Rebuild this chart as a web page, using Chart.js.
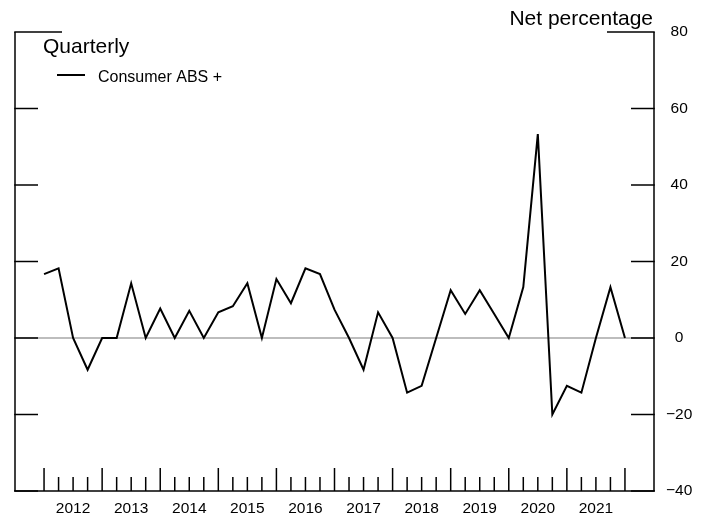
<!DOCTYPE html>
<html><head><meta charset="utf-8">
<script src="https://cdn.jsdelivr.net/npm/chart.js@4.4.1/dist/chart.umd.min.js"></script>
<style>html,body{margin:0;padding:0;background:#fff}#wrap{width:711px;height:520px}</style>
</head><body><div id="wrap"><canvas id="c" width="711" height="520" style="width:711px;height:520px"></canvas></div>
<script>
const quarters = ['2012Q1','2012Q2','2012Q3','2012Q4','2013Q1','2013Q2','2013Q3','2013Q4','2014Q1','2014Q2','2014Q3','2014Q4','2015Q1','2015Q2','2015Q3','2015Q4','2016Q1','2016Q2','2016Q3','2016Q4','2017Q1','2017Q2','2017Q3','2017Q4','2018Q1','2018Q2','2018Q3','2018Q4','2019Q1','2019Q2','2019Q3','2019Q4','2020Q1','2020Q2','2020Q3','2020Q4','2021Q1','2021Q2','2021Q3','2021Q4','2022Q1'];
const consumerABS = [16.7, 18.2, 0, -8.3, 0, 0, 14.3, 0, 7.7, 0, 7.1, 0, 6.7, 8.3, 14.3, 0, 15.4, 9.1, 18.2, 16.7, 7.4, 0, -8.3, 6.7, 0, -14.3, -12.5, 0, 12.5, 6.3, 12.5, 6.3, 0, 13.3, 53.3, -20, -12.5, -14.3, 0, 13.3, 0];
const yearLabels = ['2012','2013','2014','2015','2016','2017','2018','2019','2020','2021'];
const yTicks = [80, 60, 40, 20, 0, -20, -40];
const seriesName = 'Consumer ABS +';
const FONT = '"Liberation Sans", Arial, Helvetica, sans-serif';

const axesPlugin = {
  id: 'axesPlugin',
  beforeDatasetsDraw(chart) {
    const ctx = chart.ctx, ca = chart.chartArea, ys = chart.scales.y;
    const y0 = ys.getPixelForValue(0);
    ctx.save();
    ctx.strokeStyle = '#bdbdbd';
    ctx.lineWidth = 2;
    ctx.beginPath(); ctx.moveTo(ca.left, y0); ctx.lineTo(ca.right, y0); ctx.stroke();
    ctx.restore();
  },
  afterDraw(chart) {
    const ctx = chart.ctx, ca = chart.chartArea, xs = chart.scales.x, ys = chart.scales.y;
    const line = (x1, y1, x2, y2) => { ctx.beginPath(); ctx.moveTo(x1, y1); ctx.lineTo(x2, y2); ctx.stroke(); };
    ctx.save();
    ctx.strokeStyle = '#000';
    ctx.lineWidth = 1.5;
    ctx.lineCap = 'butt';
    line(ca.left, ca.top, ca.left, ca.bottom);
    line(ca.right, ca.top, ca.right, ca.bottom);
    line(ca.left - 0.75, ca.bottom, ca.right + 0.75, ca.bottom);
    yTicks.forEach(v => {
      const y = ys.getPixelForValue(v);
      const len = v === 80 ? 47 : 23;
      line(ca.left - 0.75, y, ca.left + len, y);
      line(ca.right - len, y, ca.right + 0.75, y);
    });
    quarters.forEach((q, i) => {
      const x = xs.getPixelForValue(i);
      const len = q.endsWith('Q1') ? 23 : 14;
      line(x, ca.bottom, x, ca.bottom - len);
    });
    // titles and legend
    ctx.fillStyle = '#000';
    ctx.font = '21px ' + FONT;
    ctx.textBaseline = 'alphabetic';
    ctx.textAlign = 'right';
    ctx.fillText('Net percentage', 653, 25);
    ctx.textAlign = 'left';
    ctx.fillText('Quarterly', 43, 53);
    ctx.lineWidth = 2;
    line(57, 75, 85, 75);
    ctx.font = '16px ' + FONT;
    ctx.fillText(seriesName, 98, 81.5);
    ctx.restore();
  }
};

new Chart(document.getElementById('c'), {
  type: 'line',
  data: {
    datasets: [{
      label: seriesName,
      data: consumerABS.map((v, i) => ({ x: i, y: v })),
      borderColor: '#000',
      borderWidth: 2,
      pointRadius: 0,
      tension: 0,
      fill: false
    }]
  },
  options: {
    responsive: false,
    animation: false,
    layout: { padding: { left: 15, top: 32, right: 0, bottom: 0 } },
    plugins: { legend: { display: false }, tooltip: { enabled: false } },
    scales: {
      x: {
        type: 'linear',
        min: -2,
        max: 42,
        grid: { display: false, drawTicks: false },
        border: { display: false },
        afterBuildTicks: s => { s.ticks = yearLabels.map(y => ({ value: quarters.indexOf(y + 'Q3') })); },
        afterFit: s => { s.height = 29; },
        ticks: {
          autoSkip: false,
          maxRotation: 0,
          padding: 8,
          color: '#000',
          font: { family: FONT, size: 15.5 },
          callback: v => quarters[v] ? quarters[v].slice(0, 4) : ''
        }
      },
      y: {
        position: 'right',
        min: -40,
        max: 80,
        grid: { display: false, drawTicks: false },
        border: { display: false },
        afterBuildTicks: s => { s.ticks = yTicks.map(v => ({ value: v })); },
        afterFit: s => { s.width = 57; },
        ticks: {
          crossAlign: 'center',
          padding: 12,
          color: '#000',
          font: { family: FONT, size: 15.5 },
          callback: v => v < 0 ? '\u2212' + Math.abs(v) : String(v)
        }
      }
    }
  },
  plugins: [axesPlugin]
});
</script>
</body></html>
